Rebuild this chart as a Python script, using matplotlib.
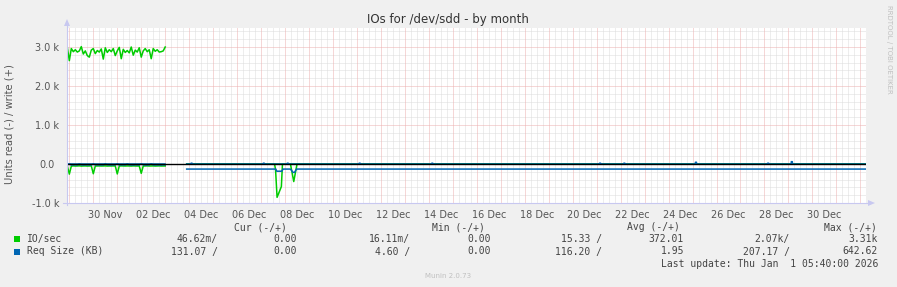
import numpy as np
import matplotlib
matplotlib.use("Agg")
import matplotlib.pyplot as plt
from matplotlib.patches import Rectangle, Polygon
from matplotlib.lines import Line2D
from matplotlib.transforms import ScaledTranslation

# ------------------------------------------------------------------ data
# time axis: hours since 2025-11-29 00:00
x_start, x_end = -2.33, 797.67

# first segment (Nov 28 22:00 -> Dec 3 00:00), 2-hour samples
seg1_hours = np.arange(-2, 97, 2)
io_write_seg1 = [2990, 2650, 2960, 2880, 2930, 2870, 2900, 3010, 2820, 2900,
                 2780, 2740, 2920, 2960, 2830, 2910, 2870, 2950, 2690, 2980,
                 2860, 2930, 2880, 2960, 2780, 2900, 2990, 2700, 2940, 2860,
                 2910, 2850, 3000, 2790, 2920, 2870, 2980, 2740, 2900, 2960,
                 2880, 2930, 2700, 2960, 2890, 2930, 2870, 2880, 2900, 3000]
io_read_seg1 = [50, 260, 55, 48, 52, 50, 47, 53, 50, 49,
                52, 50, 48, 250, 52, 50, 49, 51, 50, 48,
                52, 50, 51, 49, 50, 255, 52, 48, 50, 51,
                49, 50, 52, 48, 50, 51, 49, 240, 52, 50,
                48, 51, 50, 49, 52, 50, 48, 51, 50, 50]
req_read_seg1 = [20, 0, 25, 22, 20, 24, 0, 22, 25, 20,
                 23, 21, 25, 0, 22, 20, 24, 21, 25, 0,
                 20, 22, 24, 21, 23, 0, 25, 20, 22, 24,
                 0, 21, 23, 25, 20, 22, 24, 0, 21, 23,
                 25, 20, 0, 22, 24, 21, 23, 25, 20, 22]
req_write_seg1 = [0] * 50

# second segment (Dec 3 ~21:30 -> end)
io_read_seg2_hours = [117.5, 205.5, 206.5, 208.0, 212.3, 213.4, 221.4, 224.7, 228.0, 797.7]
io_read_seg2 = [0, 0, 150, 855, 580, 0, 0, 450, 0, 0]
io_write_seg2_hours = [117.5, 797.7]
io_write_seg2 = [0, 0]
req_read_seg2_hours = [117.5, 206.7, 207.7, 212.7, 214.0, 221.4, 224.0, 225.5, 227.4, 797.7]
req_read_seg2 = [130, 130, 185, 185, 130, 130, 215, 215, 130, 130]
req_write_blip_hours = [122.4, 194.7, 218.7, 290.7, 363.4, 531.4, 555.7, 627.4, 699.7, 723.4]
req_write_blip_values = [20, 20, 20, 20, 20, 20, 20, 45, 20, 60]

xtick_hours = [36, 84, 132, 180, 228, 276, 324, 372, 420, 468, 516, 564, 612, 660, 708, 756]
xtick_labels = ["30 Nov", "02 Dec", "04 Dec", "06 Dec", "08 Dec", "10 Dec", "12 Dec", "14 Dec",
                "16 Dec", "18 Dec", "20 Dec", "22 Dec", "24 Dec", "26 Dec", "28 Dec", "30 Dec"]
ytick_values = [-1000, 0, 1000, 2000, 3000]
ytick_labels = ["-1.0 k", "0.0", "1.0 k", "2.0 k", "3.0 k"]

legend_header = ["Cur (-/+)", "Min (-/+)", "Avg (-/+)", "Max (-/+)"]
legend_names = ["IO/sec", "Req Size (KB)"]
legend_values = [
    ["46.62m/", "0.00", "16.11m/", "0.00", "15.33 /", "372.01", "2.07k/", "3.31k"],
    ["131.07 /", "0.00", "4.60 /", "0.00", "116.20 /", "1.95", "207.17 /", "642.62"],
]
last_update = "Last update: Thu Jan  1 05:40:00 2026"
version = "Munin 2.0.73"
title = "IOs for /dev/sdd - by month"
ylabel = "Units read (-) / write (+)"
watermark = "RRDTOOL / TOBI OETIKER"

GREEN = "#00CC00"
BLUE = "#0066B3"

# ------------------------------------------------------------------ figure
W, H, DPI = 897, 287, 100
fig = plt.figure(figsize=(W / DPI, H / DPI), dpi=DPI, facecolor="#F0F0F0")

def fx(px):
    return px / W

def fy(py):
    return 1 - py / H

L, R, T, B = 67, 866, 27.5, 203
ax = fig.add_axes([fx(L), fy(B), fx(R) - fx(L), fy(T) - fy(B)])
ax.set_facecolor("white")
ax.set_xlim(x_start, x_end)
ax.set_ylim(-1000, 3500)
for s in ax.spines.values():
    s.set_visible(False)

dot = (0, (1, 1))
minor_c = "#DCDCDC"
major_c = "#EDB0B0"
for h in range(0, 798, 6):
    major = (h % 24 == 0)
    ax.axvline(h, color=major_c if major else minor_c, lw=0.72, ls=dot, zorder=1 + major)
for v in range(-800, 3500, 200):
    major = (v % 1000 == 0)
    ax.axhline(v, color=major_c if major else minor_c, lw=0.72, ls=dot, zorder=1 + major)

lw = 1.1
# IO/sec
ax.plot(seg1_hours, io_write_seg1, color=GREEN, lw=lw, zorder=3)
ax.plot(seg1_hours, -np.array(io_read_seg1), color=GREEN, lw=lw, zorder=3)
ax.plot(io_write_seg2_hours, io_write_seg2, color=GREEN, lw=lw, zorder=3)
ax.plot(io_read_seg2_hours, -np.array(io_read_seg2), color=GREEN, lw=lw, zorder=3)
# Req size
ax.plot(seg1_hours, -np.array(req_read_seg1), color=BLUE, lw=lw, zorder=4)
ax.plot(seg1_hours, req_write_seg1, color=BLUE, lw=lw, zorder=4)
ax.plot(req_read_seg2_hours, -np.array(req_read_seg2), color=BLUE, lw=lw, zorder=4)
bx, by = [io_write_seg2_hours[0]], [0]
for h, v in zip(req_write_blip_hours, req_write_blip_values):
    bx += [h - 0.6, h - 0.5, h + 0.5, h + 0.6]
    by += [0, v, v, 0]
bx.append(io_write_seg2_hours[-1]); by.append(0)
ax.plot(bx, by, color=BLUE, lw=lw, zorder=4)

ax.axhline(0, color="black", lw=1.0, zorder=5)

# ticks
tick_color = "#555555"
ax.set_xticks(xtick_hours, xtick_labels)
ax.set_yticks(ytick_values, ytick_labels)
ax.tick_params(axis="both", length=0, labelsize=7, labelcolor=tick_color)
ax.tick_params(axis="x", pad=5)
ax.tick_params(axis="y", pad=5.5)
for lab in ax.get_yticklabels():
    if lab.get_text() == "0.0":
        lab.set_transform(lab.get_transform() + ScaledTranslation(-5 / DPI, 0, fig.dpi_scale_trans))

# axis lines with arrows
axc = "#C8C8F0"
fig.add_artist(Line2D([fx(L), fx(L)], [fy(205), fy(24)], color=axc, lw=0.8))
fig.add_artist(Line2D([fx(63), fx(870)], [fy(B), fy(B)], color=axc, lw=0.8))
fig.add_artist(Polygon([[fx(L - 3), fy(26)], [fx(L + 3), fy(26)], [fx(L), fy(19)]], closed=True,
                       color=axc, lw=0))
fig.add_artist(Polygon([[fx(868), fy(B - 3)], [fx(868), fy(B + 3)], [fx(875), fy(B)]], closed=True,
                       color=axc, lw=0))

# titles
fig.text(fx(448), fy(19), title, ha="center", va="center", fontsize=8.5, color="#333333")
fig.text(fx(10), fy(124), ylabel, ha="center", va="center", rotation=90, fontsize=7.2, color=tick_color)
fig.text(fx(889), fy(5), watermark, ha="center", va="top", rotation=270, fontsize=5, color="#C0C0C0")

# legend
mono = dict(family="DejaVu Sans Mono", fontsize=7, color="#444444")
header_right = [287, 485, 680, 877]
for txt, xr in zip(legend_header, header_right):
    fig.text(fx(xr), fy(227), txt, ha="right", va="center", **mono)
col_right = [218, 297, 410, 491, 602, 684, 790, 878]
rows_y = [239, 251.5]
for name, vals, yy, col in zip(legend_names, legend_values, rows_y, [GREEN, BLUE]):
    fig.add_artist(Rectangle((fx(14), fy(yy + 3)), fx(6), 6 / H, color=col, lw=0))
    fig.text(fx(27), fy(yy), name, ha="left", va="center", **mono)
    for v, xr in zip(vals, col_right):
        fig.text(fx(xr), fy(yy), v, ha="right", va="center", **mono)
fig.text(fx(878), fy(264), last_update, ha="right", va="center", **mono)
fig.text(fx(448), fy(276), version, ha="center", va="center", fontsize=5, color="#C0C0C0")

fig.savefig("out.png", dpi=DPI, facecolor=fig.get_facecolor())
